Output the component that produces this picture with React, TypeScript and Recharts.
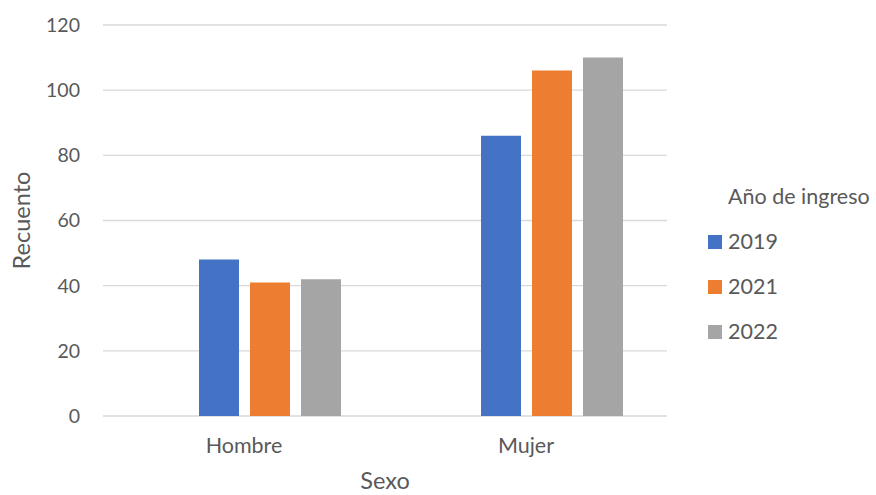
import React from 'react';
import { BarChart, Bar, XAxis, YAxis, CartesianGrid, Legend } from 'recharts';

// Recuento por sexo y año de ingreso
const categories = ['Hombre', 'Mujer'];
const values2019 = [48, 86];
const values2021 = [41, 106];
const values2022 = [42, 110];
// Excel keeps an empty slot before 2019 (blank series), so bars sit right of the category center
const valuesBlank: (number | null)[] = [null, null];
const yTicks = [0, 20, 40, 60, 80, 100, 120];

const series = [
  { key: 'y2019', name: '2019', color: '#4472C4' },
  { key: 'y2021', name: '2021', color: '#ED7D31' },
  { key: 'y2022', name: '2022', color: '#A5A5A5' },
];

const data = categories.map((sexo, i) => ({
  sexo,
  blank: valuesBlank[i],
  y2019: values2019[i],
  y2021: values2021[i],
  y2022: values2022[i],
}));

const textColor = '#595959';
const font = 'Lato, "Open Sans", sans-serif';
const labelStyle = { fill: textColor, fontSize: 23.5, fontFamily: font };

function LegendBox() {
  return (
    <div style={{ fontFamily: font, fontSize: 21.5, color: textColor, lineHeight: '45px' }}>
      <div style={{ paddingLeft: 22 }}>Año de ingreso</div>
      {series.map((s) => (
        <div key={s.key} style={{ display: 'flex', alignItems: 'center' }}>
          <span style={{ width: 14, height: 14, background: s.color, display: 'inline-block', marginLeft: 2, marginRight: 6 }} />
          <span>{s.name}</span>
        </div>
      ))}
    </div>
  );
}

export default function App() {
  return (
    <div style={{ position: 'absolute', left: 0, top: 0, background: '#fff' }}>
      <BarChart
        width={876}
        height={495}
        data={data}
        margin={{ top: 25, right: 209, left: 0, bottom: 0 }}
        barSize={40}
        barGap={11}
      >
        <CartesianGrid vertical={false} stroke="#D9D9D9" strokeWidth={1.3} />
        <XAxis
          dataKey="sexo"
          height={79}
          axisLine={false}
          tickLine={false}
          tickSize={0}
          tickMargin={22}
          tick={{ fill: textColor, fontSize: 21.5, fontFamily: font }}
          label={{ value: 'Sexo', position: 'insideBottom', offset: 6, style: labelStyle }}
        />
        <YAxis
          width={103}
          domain={[0, 120]}
          ticks={yTicks}
          axisLine={false}
          tickLine={false}
          tickSize={0}
          tickMargin={23}
          tick={{ fill: textColor, fontSize: 19.5, fontFamily: font }}
          label={{
            value: 'Recuento',
            angle: -90,
            position: 'insideLeft',
            offset: 22,
            style: { ...labelStyle, textAnchor: 'middle' },
          }}
        />
        <Legend
          layout="horizontal"
          verticalAlign="middle"
          align="center"
          wrapperStyle={{ left: 706, top: 174, width: 170 }}
          content={() => <LegendBox />}
        />
        <Bar dataKey="blank" fill="transparent" legendType="none" isAnimationActive={false} />
        {series.map((s) => (
          <Bar key={s.key} dataKey={s.key} name={s.name} fill={s.color} isAnimationActive={false} />
        ))}
      </BarChart>
    </div>
  );
}
